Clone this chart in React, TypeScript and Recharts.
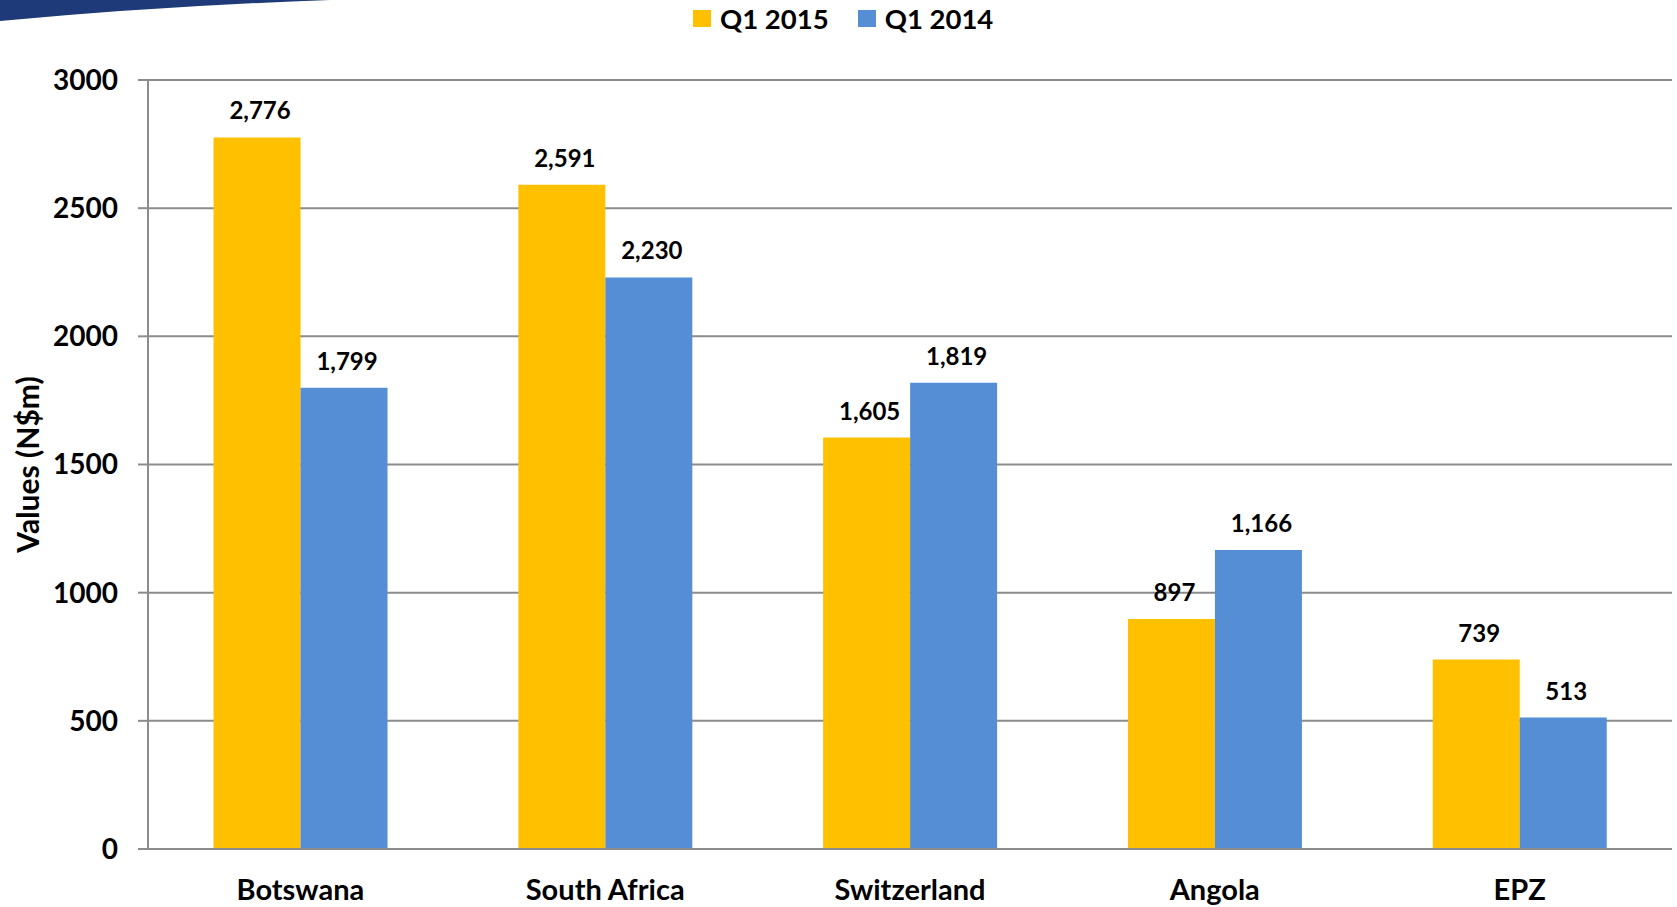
import {
  BarChart,
  Bar,
  XAxis,
  YAxis,
  CartesianGrid,
  Legend,
  LabelList,
  Label,
} from 'recharts';

const categories = ['Botswana', 'South Africa', 'Switzerland', 'Angola', 'EPZ'];
const q12015 = [2776, 2591, 1605, 897, 739];
const q12014 = [1799, 2230, 1819, 1166, 513];
const yTicks = [0, 500, 1000, 1500, 2000, 2500, 3000];

const seriesInfo = [
  { key: 'Q1 2015', color: '#FFC000' },
  { key: 'Q1 2014', color: '#558ED5' },
];

const data = categories.map((name, i) => ({
  name,
  'Q1 2015': q12015[i],
  'Q1 2014': q12014[i],
}));

const FONT = 'Lato, "Open Sans", sans-serif';
const GRID = '#8C8C8C';

const LegendBox = () => (
  <div
    style={{
      display: 'flex',
      alignItems: 'center',
      fontFamily: FONT,
      fontWeight: 700,
      fontSize: 27.5,
      color: '#000',
      height: 40,
    }}
  >
    {seriesInfo.map((s, i) => (
      <div
        key={s.key}
        style={{ display: 'flex', alignItems: 'center', marginLeft: i ? 29 : 0 }}
      >
        <span
          style={{
            display: 'inline-block',
            width: 18,
            height: 17,
            background: s.color,
            marginRight: 9,
          }}
        />
        <span>{s.key}</span>
      </div>
    ))}
  </div>
);

function App() {
  return (
    <div style={{ position: 'absolute', left: 0, top: 0, width: 1677, height: 907, background: '#fff' }}>
      <svg
        width={420}
        height={30}
        style={{ position: 'absolute', left: 0, top: 0 }}
      >
        <path d='M0,0 L330,0 Q160,6 0,21 Z' fill='#1F3A78' />
      </svg>
      <BarChart
        width={1677}
        height={907}
        data={data}
        margin={{ top: 40, right: 5, bottom: 0, left: 0 }}
        barCategoryGap='21.5%'
        barGap={0}
      >
        <CartesianGrid vertical={false} stroke={GRID} strokeWidth={2} />
        <XAxis
          dataKey='name'
          height={58}
          axisLine={{ stroke: GRID, strokeWidth: 2 }}
          tickLine={false}
          tickSize={0}
          tickMargin={30}
          tick={{ fontFamily: FONT, fontWeight: 700, fontSize: 29, fill: '#000' }}
        />
        <YAxis
          width={148}
          domain={[0, 3000]}
          ticks={yTicks}
          interval={0}
          axisLine={{ stroke: GRID, strokeWidth: 2 }}
          tickLine={{ stroke: GRID, strokeWidth: 2 }}
          tickSize={10}
          tickMargin={20}
          tick={{ fontFamily: FONT, fontWeight: 700, fontSize: 28, fill: '#000' }}
        >
          <Label
            value='Values (N$m)'
            angle={-90}
            position='insideLeft'
            offset={28}
            textAnchor='middle'
            style={{ fontFamily: FONT, fontWeight: 700, fontSize: 30, fill: '#000' }}
          />
        </YAxis>
        <Legend
          verticalAlign='top'
          content={<LegendBox />}
          wrapperStyle={{ position: 'absolute', left: 693, top: -2, width: 'auto', height: 40 }}
        />
        {seriesInfo.map((s) => (
          <Bar key={s.key} dataKey={s.key} fill={s.color} isAnimationActive={false}>
            <LabelList
              dataKey={s.key}
              position='top'
              offset={18}
              dx={3}
              formatter={(v: any) => Number(v).toLocaleString('en-US')}
              style={{ fontFamily: FONT, fontWeight: 700, fontSize: 24, fill: '#000' }}
            />
          </Bar>
        ))}
      </BarChart>
    </div>
  );
}

export default App;
